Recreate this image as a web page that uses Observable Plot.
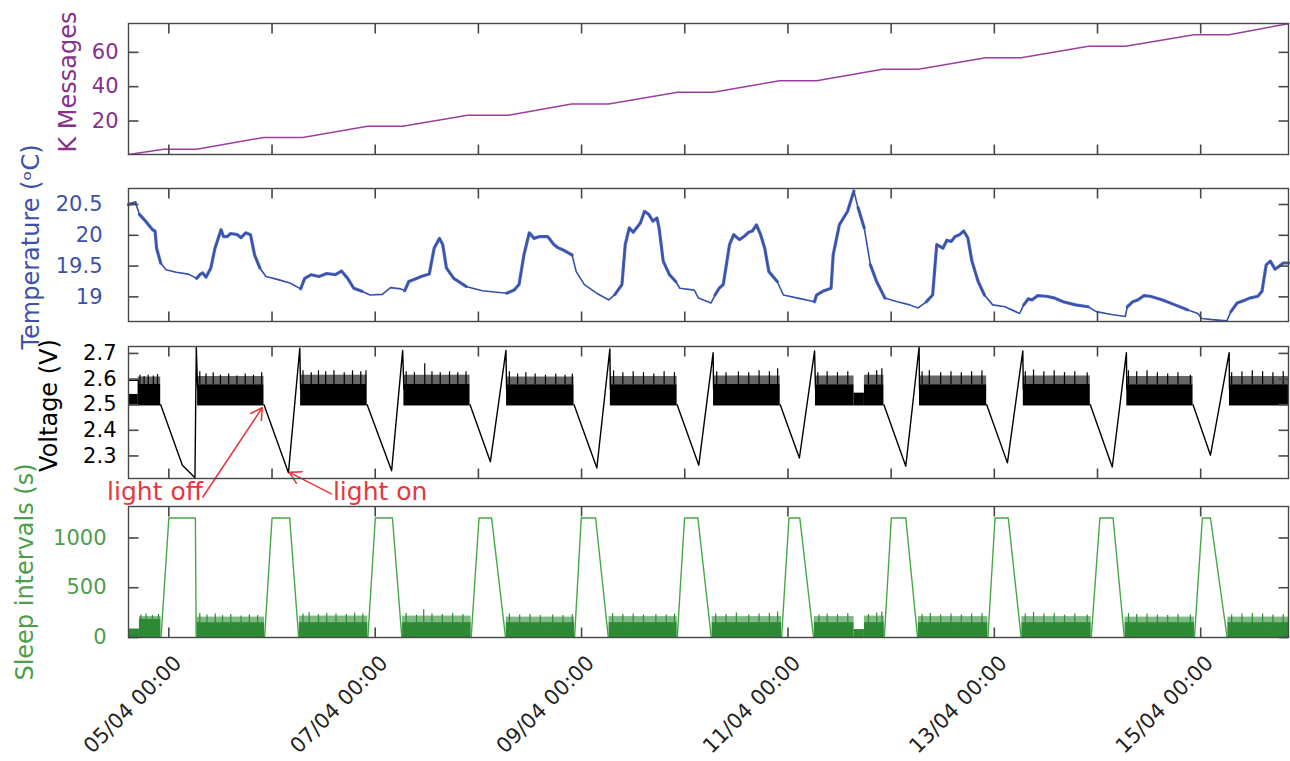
<!DOCTYPE html>
<html>
<head>
<meta charset="utf-8">
<script src="https://cdn.jsdelivr.net/npm/d3@7"></script>
<script src="https://cdn.jsdelivr.net/npm/@observablehq/plot@0.6"></script>
<style>
  html, body { margin: 0; padding: 0; background: #fff; }
  #chart { position: relative; width: 1290px; height: 761px; font-family: "DejaVu Sans", sans-serif; }
  #chart svg { position: absolute; left: 0; top: 0; }
</style>
</head>
<body>
<div id="chart"></div>
<script>
// ---------- DATA (time = day of April, e.g. 5.25 = 05/04 06:00) ----------
const msgDay = [4.609, 4.950, 5.269, 5.919, 6.297, 6.926, 7.266, 7.895, 8.292, 8.903, 9.262, 9.930, 10.274, 10.919, 11.278, 11.916, 12.265, 12.915, 13.260, 13.913, 14.271, 14.935, 15.276, 15.851];
const msgK   = [0.5, 3.6, 3.6, 10.4, 10.4, 16.9, 16.9, 23.3, 23.3, 29.9, 29.9, 36.8, 36.8, 43.4, 43.4, 50.1, 50.1, 56.8, 56.8, 63.5, 63.5, 70.3, 70.3, 76.7];

const tempDay = [4.608,4.676,4.715,4.775,4.842,4.866,4.881,4.921,4.972,5.071,5.190,5.269,5.300,5.328,5.360,5.407,5.447,5.506,5.530,5.566,5.600,5.665,5.700,5.744,5.791,5.831,5.882,5.941,6.060,6.179,6.277,6.317,6.380,6.456,6.530,6.614,6.673,6.733,6.792,6.871,6.950,7.069,7.148,7.247,7.286,7.326,7.400,7.445,7.524,7.571,7.623,7.654,7.690,7.761,7.880,8.038,8.275,8.346,8.394,8.441,8.493,8.540,8.592,8.671,8.731,8.770,8.810,8.908,8.948,9.027,9.146,9.264,9.324,9.391,9.423,9.462,9.500,9.570,9.610,9.651,9.691,9.731,9.751,9.791,9.851,9.912,9.952,10.092,10.133,10.253,10.293,10.333,10.373,10.434,10.474,10.530,10.574,10.620,10.655,10.695,10.735,10.775,10.815,10.896,10.956,11.096,11.257,11.277,11.337,11.418,11.438,11.498,11.578,11.639,11.679,11.739,11.799,11.859,11.940,12.060,12.181,12.261,12.341,12.402,12.442,12.502,12.540,12.582,12.620,12.663,12.703,12.743,12.783,12.843,12.904,12.984,13.104,13.245,13.285,13.330,13.365,13.420,13.506,13.586,13.667,13.787,13.908,13.988,14.149,14.269,14.289,14.340,14.390,14.450,14.510,14.631,14.751,14.871,14.972,15.012,15.112,15.253,15.293,15.353,15.420,15.474,15.554,15.594,15.635,15.675,15.720,15.755,15.800,15.851];
const tempC   = [20.50,20.53,20.34,20.23,20.09,20.07,19.79,19.55,19.44,19.40,19.37,19.30,19.36,19.39,19.32,19.47,19.79,20.09,19.98,19.98,20.03,20.01,19.96,20.04,20.01,19.68,19.47,19.33,19.28,19.22,19.13,19.30,19.36,19.33,19.38,19.36,19.42,19.30,19.14,19.09,19.03,19.04,19.15,19.13,19.10,19.25,19.30,19.33,19.37,19.79,19.95,19.85,19.47,19.30,19.17,19.10,19.06,19.11,19.20,19.68,20.04,19.95,19.98,19.98,19.85,19.80,19.77,19.68,19.41,19.20,19.06,18.95,19.04,19.20,19.85,20.12,20.05,20.20,20.39,20.34,20.23,20.28,20.12,19.58,19.36,19.25,19.14,19.11,18.98,18.90,19.03,19.14,19.20,19.85,20.01,19.93,19.98,20.05,20.07,20.17,20.01,19.79,19.41,19.25,19.03,18.98,18.92,19.03,19.09,19.14,19.68,20.17,20.39,20.72,20.45,20.12,19.52,19.25,18.98,18.92,18.87,18.82,18.92,19.03,19.85,19.79,19.92,19.90,19.98,20.01,20.07,19.96,19.58,19.25,19.03,18.87,18.84,18.73,18.87,18.97,18.95,19.02,19.01,18.98,18.92,18.87,18.84,18.76,18.71,18.68,18.84,18.92,18.95,19.02,19.01,18.95,18.87,18.79,18.73,18.65,18.63,18.61,18.76,18.90,18.94,18.98,19.01,19.09,19.52,19.58,19.45,19.49,19.55,19.55];

// Voltage: dense band while light is on (start, end, low, solid top, ragged top)
const voltBandStart = [4.609, 4.704, 5.279, 6.277, 7.278, 8.273, 9.279, 10.279, 11.267, 11.641, 11.741, 12.275, 13.281, 14.284, 15.279];
const voltBandEnd   = [4.704, 4.921, 5.922, 6.922, 7.919, 8.927, 9.926, 10.925, 11.641, 11.741, 11.930, 12.926, 13.930, 14.926, 15.851];
const voltBandLow   = [2.495, 2.495, 2.495, 2.495, 2.495, 2.495, 2.495, 2.495, 2.495, 2.495, 2.495, 2.495, 2.495, 2.495, 2.495];
const voltBandHigh  = [2.540, 2.580, 2.578, 2.580, 2.580, 2.578, 2.578, 2.580, 2.578, 2.545, 2.578, 2.578, 2.580, 2.578, 2.578];
const voltFringeTop = [2.540, 2.608, 2.610, 2.615, 2.615, 2.608, 2.610, 2.612, 2.612, 2.545, 2.615, 2.612, 2.612, 2.610, 2.610];
const voltOutlineDay = [4.609, 4.704, 4.704];
const voltOutlineV   = [2.595, 2.595, 2.540];
const voltSpikeDay = [4.72,4.76,4.80,4.85,4.89, 5.30,5.36,5.43,5.50,5.58,5.66,5.74,5.82,5.90, 6.30,6.38,6.45,6.52,6.60,6.70,6.78,6.86,6.91, 7.30,7.38,7.48,7.55,7.63,7.72,7.80,7.88, 8.30,8.38,8.46,8.55,8.65,8.75,8.84,8.91, 9.31,9.40,9.50,9.60,9.70,9.80,9.90, 10.31,10.40,10.52,10.62,10.72,10.82,10.90, 11.29,11.38,11.48,11.58,11.78,11.86,11.91, 12.30,12.37,12.48,12.58,12.68,12.78,12.88, 13.30,13.38,13.48,13.58,13.68,13.78,13.90, 14.30,14.38,14.48,14.58,14.68,14.78,14.90, 15.30,15.40,15.50,15.60,15.70,15.80];
const voltSpikeV   = [2.615,2.61,2.615,2.612,2.618, 2.628,2.62,2.625,2.615,2.62,2.612,2.62,2.615,2.625, 2.632,2.625,2.632,2.628,2.632,2.625,2.632,2.628,2.632, 2.628,2.625,2.66,2.628,2.625,2.628,2.625,2.628, 2.628,2.62,2.625,2.62,2.615,2.62,2.615,2.62, 2.632,2.625,2.628,2.625,2.62,2.628,2.625, 2.628,2.625,2.628,2.625,2.632,2.628,2.64, 2.625,2.628,2.625,2.628,2.625,2.632,2.64, 2.628,2.632,2.625,2.628,2.625,2.628,2.632, 2.628,2.635,2.628,2.632,2.625,2.628,2.625, 2.632,2.628,2.632,2.625,2.62,2.625,2.615, 2.625,2.628,2.632,2.628,2.625,2.628];
// Voltage while dark: discharge then recharge (one cycle per night)
const voltCycle = [1,1,1,1,1, 2,2,2,2, 3,3,3,3, 4,4,4,4, 5,5,5,5, 6,6,6,6, 7,7,7,7, 8,8,8,8, 9,9,9,9, 10,10,10,10, 11,11,11,11];
const voltCycleDay = [4.921,5.131,5.253,5.266,5.279, 5.922,6.159,6.269,6.277, 6.922,7.159,7.266,7.278, 7.919,8.116,8.267,8.273, 8.927,9.148,9.274,9.279, 9.926,10.136,10.275,10.279, 10.925,11.111,11.258,11.267, 11.930,12.142,12.271,12.275, 12.926,13.127,13.276,13.281, 13.930,14.143,14.280,14.284, 14.926,15.095,15.276,15.279];
const voltCycleV   = [2.50,2.264,2.215,2.723,2.56, 2.50,2.234,2.720,2.56, 2.50,2.242,2.712,2.56, 2.50,2.277,2.712,2.56, 2.50,2.253,2.717,2.56, 2.50,2.264,2.703,2.56, 2.50,2.292,2.710,2.56, 2.50,2.260,2.725,2.56, 2.50,2.273,2.710,2.56, 2.50,2.257,2.703,2.56, 2.50,2.303,2.703,2.56];

// Sleep intervals: dense band while light is on (start, end, solid top, ragged top)
const sleepBandStart = [4.609, 4.715, 5.270, 6.265, 7.265, 8.270, 9.266, 10.265, 11.255, 11.641, 11.741, 12.263, 13.267, 14.267, 15.263];
const sleepBandEnd   = [4.715, 4.924, 5.928, 6.929, 7.930, 8.932, 9.927, 10.938, 11.641, 11.741, 11.934, 12.938, 13.939, 14.939, 15.851];
const sleepBandTop   = [85, 185, 150, 150, 150, 150, 150, 150, 150, 80, 150, 150, 150, 150, 150];
const sleepFringeTop = [85, 210, 205, 215, 215, 205, 210, 210, 210, 80, 215, 210, 210, 205, 205];
const sleepSpikeDay = [4.73,4.78,4.84,4.90, 5.30,5.37,5.45,5.52,5.60,5.70,5.78,5.86, 6.30,6.36,6.45,6.53,6.62,6.72,6.80,6.88, 7.30,7.40,7.47,7.55,7.65,7.75,7.85, 8.30,8.40,8.50,8.60,8.72,8.82,8.91, 9.30,9.40,9.50,9.60,9.72,9.82,9.90, 10.30,10.40,10.50,10.62,10.72,10.82,10.90, 11.30,11.38,11.48,11.58,11.78,11.86,11.91, 12.30,12.38,12.48,12.58,12.68,12.78,12.88, 13.30,13.38,13.48,13.58,13.68,13.78,13.90, 14.30,14.38,14.48,14.58,14.68,14.78,14.90, 15.30,15.40,15.50,15.60,15.70,15.80];
const sleepSpikeS   = [225,235,220,230, 240,225,235,220,230,215,225,220, 235,250,230,240,235,230,245,235, 240,225,280,235,230,240,230, 235,225,230,220,225,220,230, 240,230,235,225,230,225,235, 235,230,245,225,235,240,255, 225,235,230,240,230,245,255, 230,240,225,235,225,235,240, 235,250,235,240,225,235,225, 240,230,235,225,220,230,225, 225,235,240,235,225,230];
// Sleep intervals while dark: ramp up, 1200 s plateau, ramp down
const sleepCycle = [1,1,1,1, 2,2,2,2, 3,3,3,3, 4,4,4,4, 5,5,5,5, 6,6,6,6, 7,7,7,7, 8,8,8,8, 9,9,9,9, 10,10,10,10, 11,11,11,11];
const sleepCycleDay = [4.924,5.000,5.257,5.265, 5.928,6.000,6.171,6.258, 6.929,7.001,7.167,7.258, 7.930,8.006,8.128,8.263, 8.932,8.997,9.136,9.259, 9.927,9.998,10.127,10.257, 10.938,11.010,11.115,11.248, 11.934,12.002,12.142,12.256, 12.938,13.007,13.135,13.260, 13.939,14.023,14.151,14.260, 14.939,15.016,15.095,15.256];
const sleepCycleS   = [0,1200,1200,0, 0,1200,1200,0, 0,1200,1200,0, 0,1200,1200,0, 0,1200,1200,0, 0,1200,1200,0, 0,1200,1200,0, 0,1200,1200,0, 0,1200,1200,0, 0,1200,1200,0, 0,1200,1200,0];

// Annotations (arrow tails near the text, tips on cycle 2 of the voltage)
const annotText   = ["light off", "light on"];
const annotDay    = [5.330, 6.590];
const annotV      = [2.160, 2.160];
const annotAnchor = ["end", "start"];
const arrowFromDay = [5.330, 6.575];
const arrowFromV   = [2.140, 2.152];
const arrowToDay   = [5.905, 6.168];
const arrowToV     = [2.488, 2.236];

// Axes
const xStartDay = 4.609, xEndDay = 15.851;
const dayTickDays = [5, 6, 7, 8, 9, 10, 11, 12, 13, 14, 15];
const labelTickDays = [5, 7, 9, 11, 13, 15];
const msgTicks = [20, 40, 60];
const tempTicks = [19, 19.5, 20, 20.5];
const voltTicks = [2.3, 2.4, 2.5, 2.6, 2.7];
const sleepTicks = [0, 500, 1000];

// ---------- BUILD ----------
const toDate = d => new Date(Date.UTC(2017, 3, 1) + (d - 1) * 864e5);
const xDomain = [toDate(xStartDay), toDate(xEndDay)];

const C = {
  purple: "#9a3f9c", purpleText: "#87318a",
  blue: "#3550ad", blueText: "#3d52a6",
  black: "#000000",
  green: "#45a845", greenFill: "#2d8a35", greenText: "#4c9e4c",
  red: "#e8363e", axis: "#474747", tickText: "#222222"
};
const FONT = "'DejaVu Sans', sans-serif";
const TICK = 10;
const W = 1290, H = 761, ML = 128, MR = 2;

const msgs = msgDay.map((d, i) => ({t: toDate(d), v: msgK[i]}));
// light periods (from the voltage bands) mark where the temperature trace is noisy
const lightSpans = voltBandStart.map((d, i) => [d, voltBandEnd[i]]);
const temps = tempDay.map((d, i) => {
  const k = lightSpans.findIndex(([a, b]) => d >= a - 0.01 && d <= b + 0.01);
  return {t: toDate(d), v: tempC[i], seg: k};
});
const vBands = voltBandStart.map((d, i) => ({t1: toDate(d), t2: toDate(voltBandEnd[i]), lo: voltBandLow[i], hi: voltBandHigh[i], fr: voltFringeTop[i]}));
const vOutline = voltOutlineDay.map((d, i) => ({t: toDate(d), v: voltOutlineV[i]}));
const vSpikes = voltSpikeDay.map((d, i) => ({t: toDate(d), v: voltSpikeV[i]}));
const vCycles = voltCycleDay.map((d, i) => ({t: toDate(d), v: voltCycleV[i], c: voltCycle[i]}));
const sBands = sleepBandStart.map((d, i) => ({t1: toDate(d), t2: toDate(sleepBandEnd[i]), hi: sleepBandTop[i], fr: sleepFringeTop[i]}));
const sSpikes = sleepSpikeDay.map((d, i) => ({t: toDate(d), v: sleepSpikeS[i]}));
const sCycles = sleepCycleDay.map((d, i) => ({t: toDate(d), v: sleepCycleS[i], c: sleepCycle[i]}));
const annots = annotText.map((s, i) => ({s, t: toDate(annotDay[i]), v: annotV[i], a: annotAnchor[i]}));
const arrows = arrowFromDay.map((d, i) => ({t1: toDate(d), v1: arrowFromV[i], t2: toDate(arrowToDay[i]), v2: arrowToV[i]}));

const plain = d => `${d}`;

// inward tick marks on all four sides of a panel (length TICK px, expressed in scale units)
function innerTicks(yDomain, yTicks, xt, top, bottom) {
  const dy = (yDomain[1] - yDomain[0]) * TICK / (bottom - top);
  const dxMs = (xDomain[1] - xDomain[0]) * TICK / (W - ML - MR);
  const xTickRows = xt.flatMap(t => [
    {x: t, a: yDomain[0], b: yDomain[0] + dy},
    {x: t, a: yDomain[1] - dy, b: yDomain[1]}
  ]);
  const yTickRows = yTicks.flatMap(v => [
    {y: v, a: xDomain[0], b: new Date(+xDomain[0] + dxMs)},
    {y: v, a: new Date(+xDomain[1] - dxMs), b: xDomain[1]}
  ]);
  const s = {stroke: C.axis, strokeWidth: 1.6};
  return [
    Plot.link(xTickRows, {x1: "x", x2: "x", y1: "a", y2: "b", ...s}),
    Plot.link(yTickRows, {x1: "a", x2: "b", y1: "y", y2: "y", ...s})
  ];
}

function panel({top, bottom, yDomain, yTicks, xTickDays, yColor, tickPad, title, titleColor, titleDx, titleDy, marks, bottomLabels}) {
  const xt = xTickDays.map(toDate);
  return Plot.plot({
    width: W, height: H,
    marginLeft: ML, marginRight: MR, marginTop: top, marginBottom: H - bottom,
    style: {background: "transparent", overflow: "visible", fontFamily: FONT},
    x: {type: "utc", domain: xDomain, axis: null},
    y: {domain: yDomain, axis: null},
    marks: [
      ...marks,
      ...innerTicks(yDomain, yTicks, xt, top, bottom),
      Plot.axisY({anchor: "left", ticks: yTicks, tickSize: 0, tickPadding: tickPad, tickFormat: plain, fill: yColor, fontSize: 21, label: null}),
      bottomLabels ? Plot.axisX({anchor: "bottom", ticks: bottomLabels.map(toDate), tickSize: 0, tickPadding: 22, tickRotate: -45,
        tickFormat: d3.utcFormat("%d/%m %H:%M"), fill: C.tickText, fontSize: 21, dx: 9, label: null}) : null,
      Plot.text([title], {text: d => d, frameAnchor: "left", textAnchor: "middle", rotate: -90, dx: titleDx, dy: titleDy, fill: titleColor, fontSize: 24}),
      Plot.frame({stroke: C.axis, strokeWidth: 1.4})
    ]
  });
}

const p1 = panel({
  top: 23, bottom: 154, yDomain: [0.5, 76.8], yTicks: msgTicks, xTickDays: dayTickDays,
  yColor: C.purpleText, tickPad: 10, title: "K Messages", titleColor: C.purpleText, titleDx: -60, titleDy: -7,
  marks: [Plot.line(msgs, {x: "t", y: "v", stroke: C.purple, strokeWidth: 1.5})]
});
const p2 = panel({
  top: 188, bottom: 321, yDomain: [18.6, 20.76], yTicks: tempTicks, xTickDays: dayTickDays,
  yColor: C.blueText, tickPad: 26, title: "Temperature (ᵒC)", titleColor: C.blueText, titleDx: -97, titleDy: -8,
  marks: [
    Plot.line(temps, {x: "t", y: "v", stroke: C.blue, strokeWidth: 1.6}),
    Plot.line(temps.filter(d => d.seg >= 0), {x: "t", y: "v", z: "seg", stroke: C.blue, strokeWidth: 3.2, strokeOpacity: 0.85})
  ]
});
const p3 = panel({
  top: 346, bottom: 478, yDomain: [2.212, 2.727], yTicks: voltTicks, xTickDays: dayTickDays,
  yColor: C.black, tickPad: 12, title: "Voltage (V)", titleColor: C.black, titleDx: -79, titleDy: -7,
  marks: [
    Plot.rect(vBands, {x1: "t1", x2: "t2", y1: "hi", y2: "fr", fill: C.black, fillOpacity: 0.6}),
    Plot.rect(vBands, {x1: "t1", x2: "t2", y1: "lo", y2: "hi", fill: C.black}),
    Plot.ruleX(vSpikes, {x: "t", y1: voltBandHigh[2], y2: "v", stroke: C.black, strokeWidth: 1.2}),
    Plot.line(vOutline, {x: "t", y: "v", stroke: C.black, strokeWidth: 1.2}),
    Plot.line(vCycles, {x: "t", y: "v", z: "c", stroke: C.black, strokeWidth: 1.4}),
    Plot.arrow(arrows, {x1: "t1", y1: "v1", x2: "t2", y2: "v2", stroke: C.red, strokeWidth: 1.6, headLength: 12}),
    Plot.text(annots.filter(d => d.a === "end"), {x: "t", y: "v", text: "s", textAnchor: "end", fill: C.red, fontSize: 25}),
    Plot.text(annots.filter(d => d.a === "start"), {x: "t", y: "v", text: "s", textAnchor: "start", fill: C.red, fontSize: 25})
  ]
});
const p4 = panel({
  top: 506, bottom: 637, yDomain: [0, 1316], yTicks: sleepTicks, xTickDays: labelTickDays,
  yColor: C.greenText, tickPad: 22, title: "Sleep intervals (s)", titleColor: C.greenText, titleDx: -103, titleDy: 0,
  bottomLabels: labelTickDays,
  marks: [
    Plot.rect(sBands, {x1: "t1", x2: "t2", y1: "hi", y2: "fr", fill: C.greenFill, fillOpacity: 0.6}),
    Plot.rect(sBands, {x1: "t1", x2: "t2", y1: 0, y2: "hi", fill: C.greenFill}),
    Plot.ruleX(sSpikes, {x: "t", y1: 0, y2: "v", stroke: C.greenFill, strokeWidth: 1.2}),
    Plot.line(sCycles, {x: "t", y: "v", z: "c", stroke: C.green, strokeWidth: 1.4})
  ]
});

const chart = document.getElementById("chart");
[p1, p2, p3, p4].forEach(p => chart.appendChild(p));
</script>
</body>
</html>
